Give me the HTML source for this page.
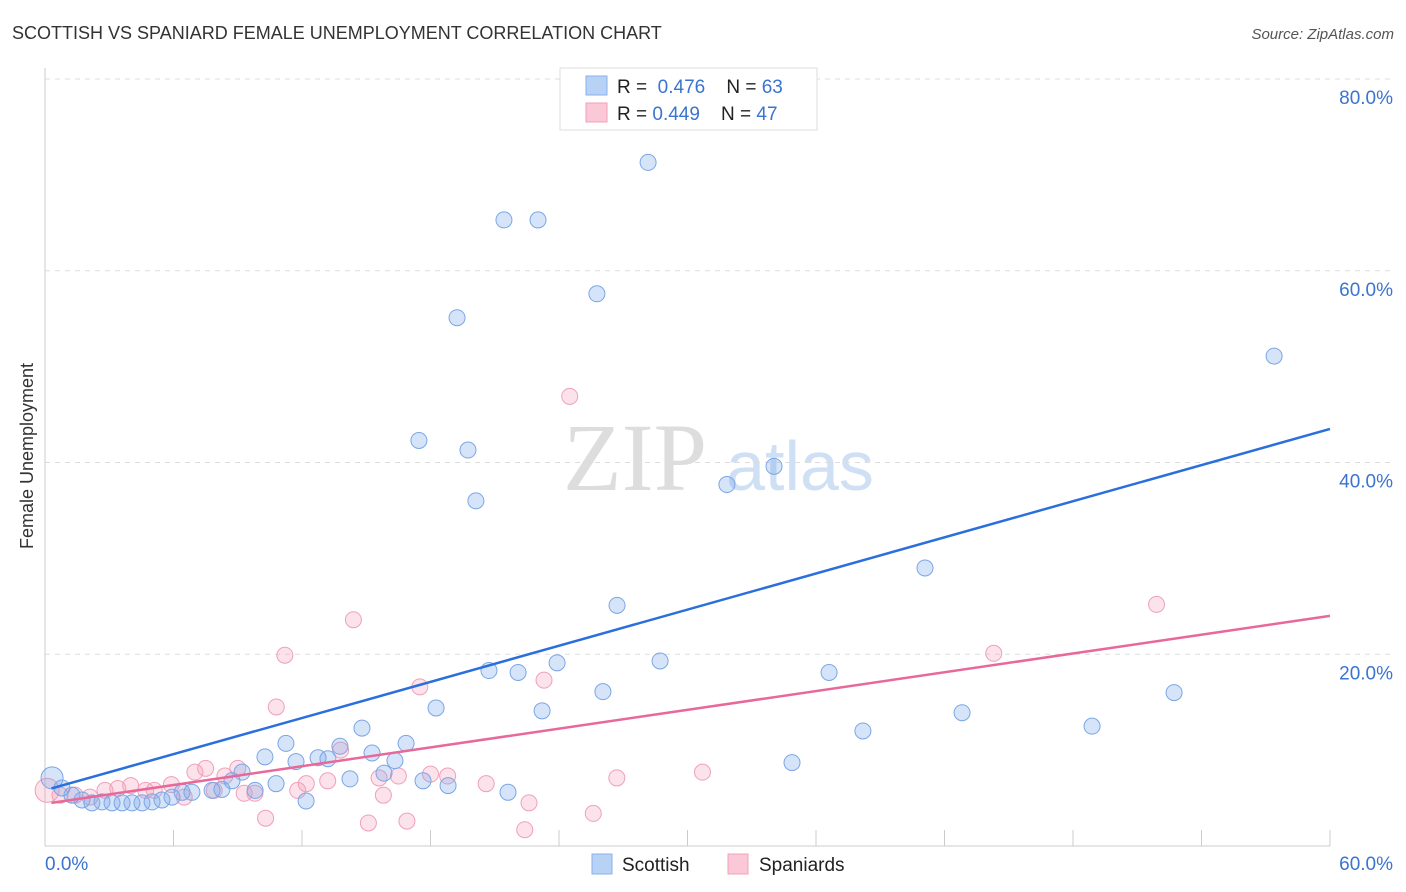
<!DOCTYPE html>
<html><head><meta charset="utf-8"><style>
body{margin:0;background:#fff;font-family:"Liberation Sans",sans-serif;}
svg{display:block}
</style></head><body>
<svg id="c" width="1406" height="892">
<text x="12" y="39" font-size="18" fill="#333">SCOTTISH VS SPANIARD FEMALE UNEMPLOYMENT CORRELATION CHART</text>
<text x="1394" y="39" font-size="15" fill="#555" font-style="italic" text-anchor="end">Source: ZipAtlas.com</text>
<text x="33" y="456" font-size="18" fill="#333" text-anchor="middle" transform="rotate(-90 33 456)">Female Unemployment</text>
<text x="635" y="490" font-size="96" fill="#ddd" font-family="Liberation Serif,serif" text-anchor="middle">ZIP</text>
<text x="800" y="490" font-size="70" fill="#cfe0f5" text-anchor="middle">atlas</text>
<g id="grid"></g><g id="pts"></g><g id="lines"></g>
<g>
<rect x="560" y="68" width="257" height="62" fill="#fff" stroke="#ddd"/>
<rect x="586" y="76" width="21" height="19" fill="#b8d2f5" stroke="#8ab2ea"/>
<rect x="586" y="103" width="21" height="19" fill="#fac8d6" stroke="#f0a0b8"/>
<text x="617" y="93" font-size="19" fill="#222" xml:space="preserve">R =  <tspan fill="#3a74d0">0.476</tspan>    N = <tspan fill="#3a74d0">63</tspan></text>
<text x="617" y="120" font-size="19" fill="#222" xml:space="preserve">R = <tspan fill="#3a74d0">0.449</tspan>    N = <tspan fill="#3a74d0">47</tspan></text>
</g>
<g>
<rect x="592" y="854" width="20" height="20" fill="#b8d2f5" stroke="#8ab2ea"/>
<text x="622" y="871" font-size="19" fill="#222">Scottish</text>
<rect x="728" y="854" width="20" height="20" fill="#fac8d6" stroke="#f0a0b8"/>
<text x="759" y="871" font-size="19" fill="#222">Spaniards</text>
</g>
</svg>
<script>
const yTicks=[20,40,60,80];
const xTickLabels=["0.0%","60.0%"];
const scotX=[0.33,0.79,1.26,1.73,2.19,2.66,3.13,3.60,4.06,4.53,5.00,5.46,5.93,6.40,6.86,7.80,8.26,8.73,9.20,9.81,10.27,10.79,11.25,11.72,12.19,12.75,13.21,13.77,14.24,14.80,15.27,15.83,16.34,16.86,17.46,17.65,18.26,18.82,19.24,19.75,20.12,20.73,21.43,21.62,22.09,23.02,23.21,23.91,25.77,26.05,26.71,28.16,28.72,31.84,34.04,34.88,36.61,38.19,41.09,42.82,48.89,52.72,57.39];
const scotY=[7.1,6.05,5.3,4.8,4.5,4.6,4.5,4.5,4.5,4.5,4.6,4.8,5.1,5.6,5.6,5.8,5.9,6.8,7.7,5.8,9.3,6.5,10.7,8.8,4.7,9.2,9.1,10.4,7.0,12.3,9.7,7.6,8.9,10.7,42.3,6.8,14.4,6.3,55.1,41.3,36.0,18.3,65.3,5.6,18.1,65.3,14.1,19.1,57.6,16.1,25.1,71.3,19.3,37.7,39.6,8.7,18.1,12.0,29.0,13.9,12.5,16.0,51.1];
const spanX=[0.1,0.7,1.4,2.1,2.8,3.4,4.0,4.7,5.1,5.9,6.5,7.0,7.5,7.9,8.4,9.0,9.3,9.8,10.3,10.8,11.2,11.8,12.2,13.2,13.8,14.4,15.1,15.6,15.8,16.5,16.9,17.5,18.0,18.8,20.6,22.4,22.6,23.3,24.5,25.6,26.7,30.7,44.3,51.9];
const spanY=[5.8,5.3,5.3,5.1,5.8,6.0,6.3,5.8,5.8,6.4,5.1,7.7,8.1,5.8,7.3,8.1,5.5,5.5,2.9,14.5,19.9,5.8,6.5,6.8,10.0,23.6,2.4,7.1,5.3,7.3,2.6,16.6,7.5,7.3,6.5,1.7,4.5,17.3,46.9,3.4,7.1,7.7,20.1,25.2];
const trendBlue=[0.3,6.0,60,43.5];
const trendPink=[0.3,4.5,60,24.0];
const X=v=>45+v/60*1285, Y=v=>846-v/80*767;
const ns="http://www.w3.org/2000/svg";
function mk(t,a,p){const e=document.createElementNS(ns,t);for(const k in a)e.setAttribute(k,a[k]);p.appendChild(e);return e;}
const g=document.getElementById('grid');
yTicks.forEach(t=>{const l=mk('line',{x1:45,x2:1394,y1:Y(t),y2:Y(t),stroke:'#ddd','stroke-dasharray':'5,5'},g);


const tx=mk('text',{x:1393,y:Y(t)+25,'font-size':19,fill:'#3a74d0','text-anchor':'end'},g);tx.textContent=t.toFixed(1)+'%';

});
const ax=mk('line',{x1:45,x2:1330,y1:846,y2:846,stroke:'#ccc'},g);


const ay=mk('line',{x1:45,x2:45,y1:68,y2:846,stroke:'#ccc'},g);


for(let i=0;i<=10;i++){const t=mk('line',{x1:X(i*6),x2:X(i*6),y1:830,y2:846,stroke:'#ccc'},g);

}
[[0,xTickLabels[0],'start',45],[60,xTickLabels[1],'end',1393]].forEach(d=>{const t=mk('text',{x:d[3],y:870,'font-size':19,fill:'#3a74d0','text-anchor':d[2]},g);t.textContent=d[1];

});
const p=document.getElementById('pts');
spanX.forEach((v,i)=>{const c=mk('circle',{cx:X(v),cy:Y(spanY[i]),r:i==0?12:8,fill:'rgba(245,160,185,0.3)',stroke:'#f0a0b8','stroke-width':1},p);

});
scotX.forEach((v,i)=>{const c=mk('circle',{cx:X(v),cy:Y(scotY[i]),r:i==0?11:8,fill:'rgba(120,165,235,0.3)',stroke:'#7aa6e6','stroke-width':1},p);

});
const L=document.getElementById('lines');
const b=mk('line',{x1:X(trendBlue[0]),y1:Y(trendBlue[1]),x2:X(trendBlue[2]),y2:Y(trendBlue[3]),stroke:'#2a6fdb','stroke-width':2.5},L);


const q=mk('line',{x1:X(trendPink[0]),y1:Y(trendPink[1]),x2:X(trendPink[2]),y2:Y(trendPink[3]),stroke:'#e8689a','stroke-width':2.5},L);


</script>
</body></html>
